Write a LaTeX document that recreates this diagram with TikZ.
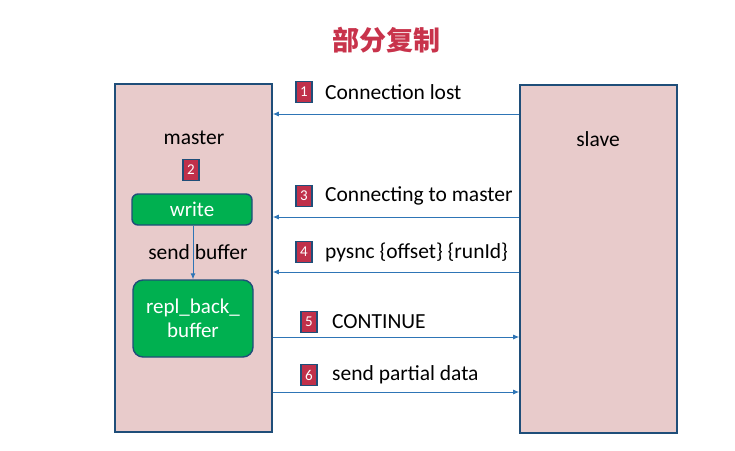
\documentclass[tikz,border=0pt]{standalone}
\usepackage{fontspec}
\setmainfont{Carlito}
\newfontfamily\cjkfont{Noto Sans CJK SC}
\usepackage{xcolor}
\usepackage{tikz}
\usetikzlibrary{arrows.meta}

\definecolor{boxpink}{HTML}{E8CBCB}
\definecolor{boxline}{HTML}{1F4E79}
\definecolor{msgblue}{HTML}{2E75B6}
\definecolor{badgered}{HTML}{C0304A}
\definecolor{bufgreen}{HTML}{00B050}
\definecolor{titlered}{HTML}{C8334B}

\begin{document}
\begin{tikzpicture}[x=1pt,y=-1pt,
  host/.style={draw=boxline, line width=1.6pt, fill=boxpink, minimum width=157pt, minimum height=348pt},
  buf/.style={draw=boxline, line width=1.4pt, fill=bufgreen, rounded corners=6pt, text=white, font=\fontsize{21}{24}\selectfont, align=center, minimum width=120pt},
  badge/.style={draw=boxline, line width=1.8pt, fill=badgered, text=white, font=\fontsize{15}{15}\selectfont, minimum width=16pt, minimum height=21pt, inner sep=0pt},
  lbl/.style={font=\fontsize{21.5}{24}\selectfont, anchor=west, inner sep=0pt},
  msg/.style={draw=msgblue, line width=0.9pt, -{Latex[length=6pt,width=5pt]}}]
\useasboundingbox (0,0) rectangle (735,450);
\node[font=\cjkfont\bfseries\fontsize{27}{30}\selectfont, text=titlered] (title) at (386,40) {部分复制};
\node[host] (master) at (193.5,258) {};
\node[host] (slave) at (598.5,259) {};
\node[font=\fontsize{21.5}{24}\selectfont] (mname) at (194,138) {master};
\node[font=\fontsize{21.5}{24}\selectfont] (sname) at (598,139) {slave};
\node[badge] (b2) at (191,170) {2};
\node[buf, minimum height=31pt] (write) at (192,209.5) {write};
\node[buf, minimum height=77pt, rounded corners=10pt] (repl) at (193,318.5) {repl\_back\_\\buffer};
\draw[msg] (write.south -| repl.north) -- (repl.north);
\node[font=\fontsize{21.5}{24}\selectfont, fill=boxpink, inner sep=1pt] (sendbuf) at (198,252) {send buffer};
\draw[draw=msgblue, line width=0.9pt] (sendbuf.north -| repl.north) -- (sendbuf.south -| repl.north);
% messages
\coordinate (y1) at (0,114);
\coordinate (y3) at (0,217);
\coordinate (y4) at (0,272);
\coordinate (y5) at (0,337);
\coordinate (y6) at (0,392);
\draw[msg] (slave.west |- y1) -- (master.east |- y1);
\draw[msg] (slave.west |- y3) -- (master.east |- y3);
\draw[msg] (slave.west |- y4) -- (master.east |- y4);
\draw[msg] (master.east |- y5) -- (slave.west |- y5);
\draw[msg] (master.east |- y6) -- (slave.west |- y6);
\node[badge] (b1) at (304,92) {1};
\node[lbl] (t1) at (325,92) {Connection lost};
\node[badge] (b3) at (304,196) {3};
\node[lbl] (t3) at (325,196) {Connecting to master};
\node[badge] (b4) at (304,252) {4};
\node[lbl] (t4) at (325,252) {pysnc \{offset\} \{runId\}};
\node[badge] (b5) at (309,322) {5};
\node[lbl] (t5) at (332,322) {CONTINUE};
\node[badge] (b6) at (309,375) {6};
\node[lbl] (t6) at (332,375) {send partial data};
\end{tikzpicture}
\end{document}
